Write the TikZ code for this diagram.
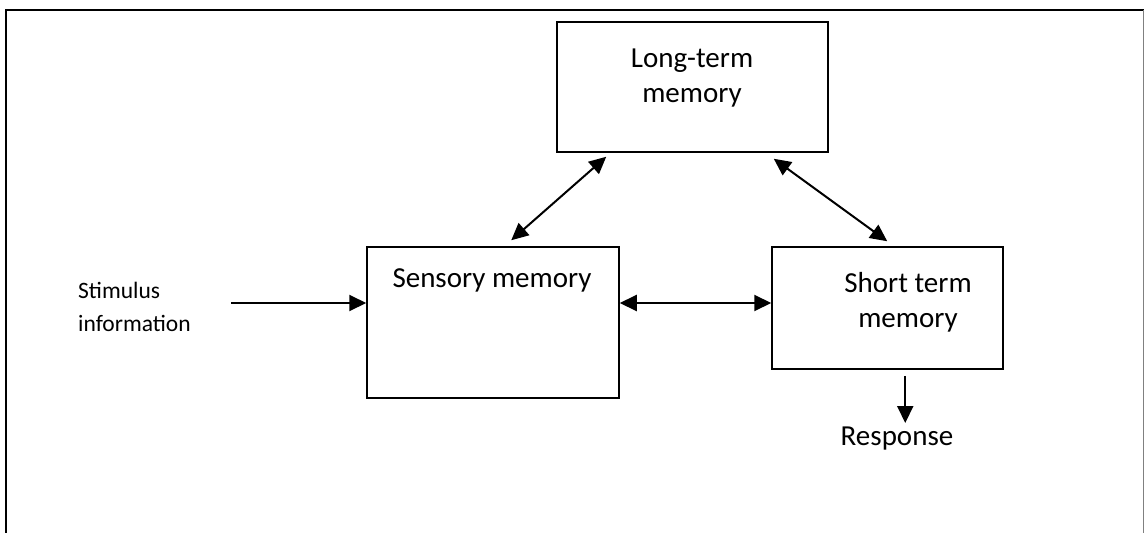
\documentclass[tikz,border=0pt]{standalone}
\usepackage{fontspec}
\setmainfont{Carlito}
\usetikzlibrary{arrows.meta, positioning, calc}

\begin{document}
\begin{tikzpicture}[x=1pt, y=-1pt,
    box/.style={draw, line width=1.5pt, inner sep=0pt},
    txt/.style={inner sep=0pt, anchor=base, align=center, font=\fontsize{29}{35}\selectfont},
    arr/.style={line width=2pt, -{Triangle[length=17pt, width=16pt]}},
    dbl/.style={line width=2pt, {Triangle[length=17pt, width=16pt]}-{Triangle[length=17pt, width=16pt]}}]
    \useasboundingbox (0,0) rectangle (1144,533);
    % frame
    \draw[line width=2pt] (6,533) -- (6,10) -- (1144,10);
    \draw[gray, line width=0.8pt] (1143,10) -- (1143,533);
    % boxes
    \node[box, minimum width=271pt, minimum height=130pt] (ltm) at (692.5,87) {};
    \node[box, minimum width=252pt, minimum height=151pt] (sens) at (493,322.5) {};
    \node[box, minimum width=231pt, minimum height=122pt] (stm) at (887.5,308) {};
    % texts (base = last line)
    \node[txt] (ltmtext) at (692,102) {Long-term\\memory};
    \node[txt] (senstext) at (492,287) {Sensory memory};
    \node[txt] (stmtext) at (908,327) {Short term\\memory};
    \node[txt] (resp) at (897,445) {Response};
    \node[inner sep=0pt, anchor=base west, align=left,
          font=\fontsize{23.5}{33}\selectfont] (stim) at (78,331) {Stimulus\\information};
    % connectors
    \coordinate (in) at (231,303);
    \draw[arr] (in) -- (in -| sens.west);
    \draw[dbl] ([yshift=19.5pt]sens.east) coordinate (m) -- (m -| stm.west);
    \draw[dbl] ([xshift=50pt, yshift=-4pt]ltm.south west) -- ([xshift=145pt, yshift=6pt]sens.north west);
    \draw[dbl] ([xshift=-55pt, yshift=-6pt]ltm.south east) -- ([xshift=116pt, yshift=5pt]stm.north west);
    \draw[arr] ([xshift=134pt, yshift=-6pt]stm.south west) coordinate (out) -- (out |- 0,423);
\end{tikzpicture}
\end{document}
